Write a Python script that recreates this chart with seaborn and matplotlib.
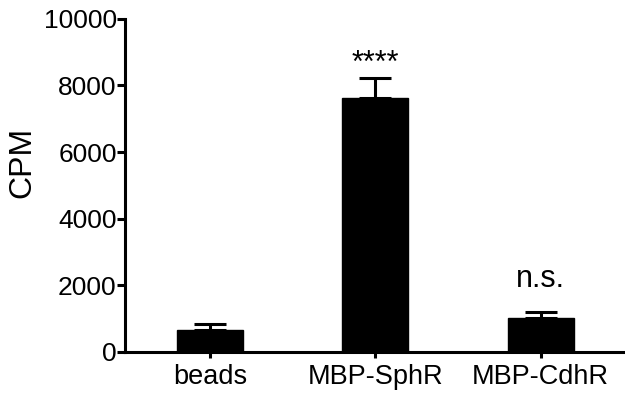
import matplotlib
matplotlib.use("Agg")
import matplotlib.pyplot as plt
import seaborn as sns
import pandas as pd

categories = ["beads", "MBP-SphR", "MBP-CdhR"]
means = [660, 7620, 1030]
errors = [180, 600, 160]
annotations = ["", "****", "n.s."]
yticks = [0, 2000, 4000, 6000, 8000, 10000]

sns.set_theme(style="ticks")
plt.rcParams['font.family'] = ['Liberation Sans', 'DejaVu Sans']
plt.rcParams['text.color'] = 'black'
plt.rcParams['axes.labelcolor'] = 'black'

df = pd.DataFrame({"group": categories, "cpm": means})

fig = plt.figure(figsize=(6.25, 3.94), dpi=100)
ax = fig.add_axes([0.2, 0.107, 0.8, 0.845])

sns.barplot(data=df, x="group", y="cpm", color="black", width=0.4,
            errorbar=None, ax=ax, saturation=1)
for p in ax.patches:
    p.set_edgecolor("black")

ax.errorbar(range(len(categories)), means, yerr=[[0]*len(errors), errors],
            fmt="none", ecolor="black", elinewidth=2.2, capsize=11.5, capthick=2.2)

# annotation baselines (data units)
ann_y = {"****": 8400, "n.s.": 1950}
for i, a in enumerate(annotations):
    if a:
        ax.text(i, ann_y[a], a, ha="center", va="baseline", fontsize=22,
                color="black")

ax.set_xlim(-0.515, 2.51)
ax.set_ylim(0, 10000)
ax.set_yticks(yticks)
ax.set_yticklabels([str(t) for t in yticks], fontsize=19)
ax.set_xticks(range(len(categories)))
ax.set_xticklabels(categories, fontsize=19.5)
ax.set_xlabel("")
ax.set_ylabel("CPM", fontsize=23, color="black")
ax.yaxis.set_label_coords(-0.176, 0.57)

for s in ["top", "right"]:
    ax.spines[s].set_visible(False)
for s in ["left", "bottom"]:
    ax.spines[s].set_linewidth(2.2)
    ax.spines[s].set_color("black")
ax.tick_params(axis="y", length=5.5, width=2.2, pad=0.5, colors="black")
ax.tick_params(axis="x", length=4, width=2.2, pad=5, colors="black")

fig.savefig("out.png", dpi=100)
